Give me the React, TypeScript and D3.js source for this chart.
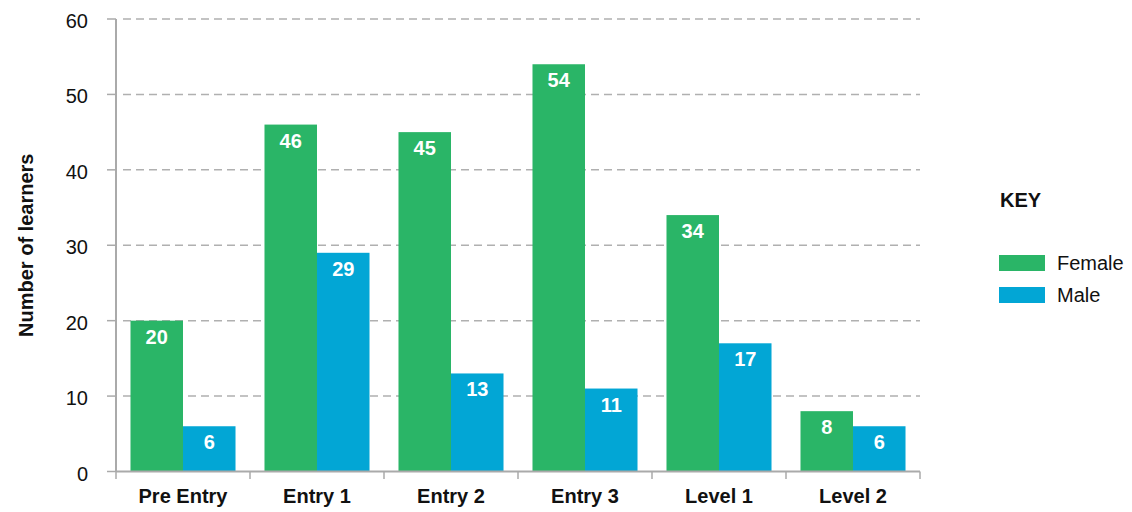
import React from "react";
import * as d3 from "d3";

const categories = ["Pre Entry", "Entry 1", "Entry 2", "Entry 3", "Level 1", "Level 2"];
const seriesNames = ["Female", "Male"];
const female = [20, 46, 45, 54, 34, 8];
const male = [6, 29, 13, 11, 17, 6];
const yTicks = [0, 10, 20, 30, 40, 50, 60];
const colors = ["#2ab567", "#02a6d5"];

const W = 1132;
const H = 512;
const left = 116;
const right = 920;
const top = 19;
const bottom = 471.5;
const font = "'Liberation Sans', Arial, sans-serif";

export default function App() {
  const x = d3.scaleBand<string>().domain(categories).range([left, right]).paddingInner(0).paddingOuter(0);
  const inner = d3.scaleBand<string>().domain(seriesNames).range([0, x.bandwidth()]).paddingOuter(0.276).paddingInner(0);
  const y = d3.scaleLinear().domain([0, 60]).range([bottom, top]);
  const series = [female, male];

  return (
    <svg width={W} height={H} style={{ position: "absolute", left: 0, top: 0, background: "#fff" }} fontFamily={font}>
      {yTicks.map((t) => (
        <g key={t}>
          <line x1={107} x2={left} y1={y(t)} y2={y(t)} stroke="#aaaaaa" strokeWidth={1.5} />
          {t > 0 && (
            <line x1={left + 7} x2={right} y1={y(t)} y2={y(t)} stroke="#b0b0b0" strokeWidth={1.5} strokeDasharray="8,5" />
          )}
          <text x={88} y={y(t) + 9} textAnchor="end" fontSize={20} fill="#111">
            {t}
          </text>
        </g>
      ))}
      {categories.map((c, i) => (
        <g key={c}>
          {series.map((s, j) => {
            const bx = (x(c) as number) + (inner(seriesNames[j]) as number);
            const bw = inner.bandwidth();
            return (
              <g key={j}>
                <rect x={bx} y={y(s[i])} width={bw} height={y(0) - y(s[i])} fill={colors[j]} />
                <text x={bx + bw / 2} y={y(s[i]) + 23} textAnchor="middle" fontSize={20} fontWeight="bold" fill="#fff">
                  {s[i]}
                </text>
              </g>
            );
          })}
          <text x={(x(c) as number) + x.bandwidth() / 2} y={503} textAnchor="middle" fontSize={20} fontWeight="bold" fill="#111">
            {c}
          </text>
        </g>
      ))}
      <line x1={left} x2={left} y1={top} y2={bottom} stroke="#aaaaaa" strokeWidth={2} />
      <line x1={left} x2={right} y1={bottom} y2={bottom} stroke="#aaaaaa" strokeWidth={2} />
      {categories.map((c) => (
        <line key={c} x1={x(c) as number} x2={x(c) as number} y1={bottom} y2={479} stroke="#aaaaaa" strokeWidth={1.5} />
      ))}
      <line x1={right} x2={right} y1={bottom} y2={479} stroke="#aaaaaa" strokeWidth={1.5} />
      <text transform={`translate(33, ${(top + bottom) / 2}) rotate(-90)`} textAnchor="middle" fontSize={20} fontWeight="bold" fill="#111">
        Number of learners
      </text>
      <text x={1000} y={207} fontSize={20} fontWeight="bold" fill="#111">KEY</text>
      {seriesNames.map((n, j) => (
        <g key={n}>
          <rect x={999} y={255 + j * 32} width={46} height={16} fill={colors[j]} />
          <text x={1057} y={270 + j * 32} fontSize={20} fill="#111">{n}</text>
        </g>
      ))}
    </svg>
  );
}
